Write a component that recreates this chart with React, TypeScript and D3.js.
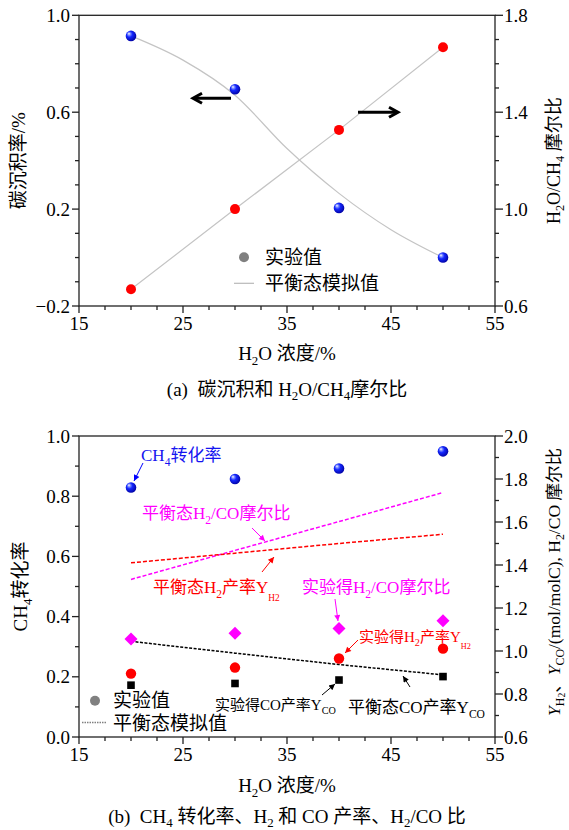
import React from "react";
import * as d3 from "d3";

// ---------- data ----------
const xExp = [20, 30, 40, 50];
// (a) carbon deposition (left axis) and H2O/CH4 ratio (right axis)
const carbonExp = [0.915, 0.695, 0.205, 0.0];
const ratioExp = [0.669, 1.0, 1.327, 1.668];
const xSimA = [20, 25, 30, 35, 40, 45, 50];
const carbonSim = [0.915, 0.815, 0.67, 0.45, 0.265, 0.115, 0.0];
const xSimRatio = [20, 30, 40, 50];
const ratioSim = [0.669, 1.0, 1.327, 1.668];

// (b)
const ch4Conv = [0.829, 0.857, 0.892, 0.949];
const h2coExp = [1.056, 1.082, 1.105, 1.141];
const h2YieldExp = [0.895, 0.923, 0.965, 1.011];
const coYieldExp = [0.841, 0.849, 0.865, 0.881];
const xSimB = [20, 30, 40, 50];
const h2coSim = [1.333, 1.468, 1.602, 1.737];
const h2YieldSim = [1.41, 1.455, 1.5, 1.543];
const coYieldSim = [1.045, 0.99, 0.937, 0.889];

const xTickLabels = [15, 25, 35, 45, 55];
const aLeftTicks = [-0.2, 0.2, 0.6, 1.0];
const aRightTicks = [0.6, 1.0, 1.4, 1.8];
const bLeftTicks = [0.0, 0.2, 0.4, 0.6, 0.8, 1.0];
const bRightTicks = [0.6, 0.8, 1.0, 1.2, 1.4, 1.6, 1.8, 2.0];

// ---------- layout ----------
const W = 569, H = 830;
const L = 79, R = 495;
const A_T = 15.3, A_B = 306;
const B_T = 436, B_B = 737;
const FONT = "'Liberation Serif','Times New Roman','Noto Sans CJK SC',serif";
const AXC = "#222";
const SP = "\u00a0\u00a0";

type Seg = { t: string; lv?: number; it?: boolean };
const lvSize = [1, 0.68, 0.55];

function Rich({ x, y, segs, size, fill = "#000", anchor = "start", rotate = 0, off = [0, 0.28, 0.45] }: any) {
  let prev = 0;
  const base = size * 0.35;
  return (
    <text
      transform={`translate(${x},${y}) rotate(${rotate})`}
      x={0}
      y={base}
      fontFamily={FONT}
      fontSize={size}
      fill={fill}
      textAnchor={anchor}
    >
      {segs.map((s: Seg, i: number) => {
        const lv = s.lv || 0;
        const dy = (off[lv] - off[prev]) * size;
        prev = lv;
        return (
          <tspan key={i} dy={dy} fontSize={size * lvSize[lv]} fontStyle={s.it ? "italic" : "normal"}>
            {s.t}
          </tspan>
        );
      })}
    </text>
  );
}

function Axes({ top, bottom, yL, yR, leftTicks, rightTicks, leftStep, rightStep, leftFmt, rightFmt }: any) {
  const x = d3.scaleLinear().domain([15, 55]).range([L, R]);
  const xMinor = d3.range(15, 55.001, 2.5);
  const [l0, l1] = yL.domain();
  const [r0, r1] = yR.domain();
  const lMinor = d3.range(0, Math.round((l1 - l0) / leftStep) + 1).map((i) => l0 + i * leftStep);
  const rMinor = d3.range(0, Math.round((r1 - r0) / rightStep) + 1).map((i) => r0 + i * rightStep);
  const isMajor = (v: number, arr: number[]) => arr.some((a) => Math.abs(a - v) < 1e-6);
  return (
    <g>
      <rect x={L} y={top} width={R - L} height={bottom - top} fill="none" stroke={AXC} strokeWidth={1.3} />
      {xMinor.map((v) => {
        const maj = isMajor(v, xTickLabels);
        return <line key={"x" + v} x1={x(v)} x2={x(v)} y1={bottom} y2={bottom + (maj ? 7 : 4)} stroke={AXC} strokeWidth={1.3} />;
      })}
      {xTickLabels.map((v) => (
        <text key={"xl" + v} x={x(v)} y={bottom + 24} textAnchor="middle" fontFamily={FONT} fontSize={19}>
          {v}
        </text>
      ))}
      {lMinor.map((v) => {
        const maj = isMajor(v, leftTicks);
        return <line key={"l" + v} x1={L} x2={L - (maj ? 7 : 4)} y1={yL(v)} y2={yL(v)} stroke={AXC} strokeWidth={1.3} />;
      })}
      {leftTicks.map((v: number) => (
        <text key={"ll" + v} x={L - 9} y={yL(v) + 6.5} textAnchor="end" fontFamily={FONT} fontSize={19}>
          {leftFmt(v)}
        </text>
      ))}
      {rMinor.map((v) => {
        const maj = isMajor(v, rightTicks);
        return <line key={"r" + v} x1={R} x2={R + (maj ? 8 : 4)} y1={yR(v)} y2={yR(v)} stroke={AXC} strokeWidth={1.3} />;
      })}
      {rightTicks.map((v: number) => (
        <text key={"rl" + v} x={R + 9} y={yR(v) + 6.5} textAnchor="start" fontFamily={FONT} fontSize={19}>
          {rightFmt(v)}
        </text>
      ))}
    </g>
  );
}

const fmt1 = (v: number) => (v < 0 ? "\u2212" + Math.abs(v).toFixed(1) : v.toFixed(1));

function Sphere({ cx, cy }: any) {
  return <circle cx={cx} cy={cy} r={5.3} fill="url(#sphereBlue)" />;
}

function BigArrow({ x1, x2, y }: any) {
  const dir = x2 > x1 ? 1 : -1;
  const hx = x2 - dir * 9;
  return (
    <g stroke="#000" strokeWidth={3} fill="none" strokeLinecap="butt" strokeLinejoin="miter">
      <line x1={x1} y1={y} x2={x2 - dir * 1.5} y2={y} />
      <polyline points={`${hx},${y - 5} ${x2},${y} ${hx},${y + 5}`} />
    </g>
  );
}

function Ann({ x1, y1, x2, y2, color }: any) {
  const id = "ah" + color.replace("#", "");
  return <line x1={x1} y1={y1} x2={x2} y2={y2} stroke={color} strokeWidth={1} markerEnd={`url(#${id})`} />;
}

export default function App() {
  const x = d3.scaleLinear().domain([15, 55]).range([L, R]);
  const yAL = d3.scaleLinear().domain([-0.2, 1.0]).range([A_B, A_T]);
  const yAR = d3.scaleLinear().domain([0.6, 1.8]).range([A_B, A_T]);
  const yBL = d3.scaleLinear().domain([0, 1.0]).range([B_B, B_T]);
  const yBR = d3.scaleLinear().domain([0.6, 2.0]).range([B_B, B_T]);

  const carbonLine = d3
    .line<number>()
    .x((_, i) => x(xSimA[i]))
    .y((d) => yAL(d))
    .curve(d3.curveMonotoneX)(carbonSim) as string;
  const ratioLine = d3
    .line<number>()
    .x((_, i) => x(xSimRatio[i]))
    .y((d) => yAR(d))(ratioSim) as string;
  const lineB = (arr: number[]) =>
    d3
      .line<number>()
      .x((_, i) => x(xSimB[i]))
      .y((d) => yBR(d))(arr) as string;

  const arrowColors = ["#0000ff", "#ff00ff", "#ff0000", "#000000"];

  return (
    <svg width={W} height={H} style={{ position: "absolute", left: 0, top: 0, background: "#fff" }}>
      <defs>
        <radialGradient id="sphereBlue" cx="0.42" cy="0.42" r="0.62" fx="0.3" fy="0.28">
          <stop offset="0" stopColor="#ffffff" />
          <stop offset="0.2" stopColor="#8090ff" />
          <stop offset="0.45" stopColor="#1428ff" />
          <stop offset="1" stopColor="#0000a0" />
        </radialGradient>
        {arrowColors.map((c) => (
          <marker
            key={c}
            id={"ah" + c.replace("#", "")}
            viewBox="0 0 10 10"
            refX="10"
            refY="5"
            markerWidth="8"
            markerHeight="6"
            markerUnits="userSpaceOnUse"
            orient="auto"
          >
            <path d="M0,0 L10,5 L0,10 z" fill={c} />
          </marker>
        ))}
      </defs>
      <rect x={0} y={0} width={W} height={H} fill="#fff" />

      {/* ---------- (a) ---------- */}
      <Axes
        top={A_T}
        bottom={A_B}
        yL={yAL}
        yR={yAR}
        leftTicks={aLeftTicks}
        rightTicks={aRightTicks}
        leftStep={0.1}
        rightStep={0.1}
        leftFmt={fmt1}
        rightFmt={fmt1}
      />
      <path d={carbonLine} fill="none" stroke="#c4c4c4" strokeWidth={1.2} />
      <path d={ratioLine} fill="none" stroke="#c4c4c4" strokeWidth={1.2} />
      {carbonExp.map((v, i) => (
        <Sphere key={"c" + i} cx={x(xExp[i])} cy={yAL(v)} />
      ))}
      {ratioExp.map((v, i) => (
        <circle key={"r" + i} cx={x(xExp[i])} cy={yAR(v)} r={5} fill="#ff0000" />
      ))}
      <BigArrow x1={231} x2={193} y={98.3} />
      <BigArrow x1={358} x2={398} y={112.3} />
      {/* legend a */}
      <circle cx={244} cy={257.3} r={5} fill="#808080" />
      <Rich x={265} y={257.3} size={19} segs={[{ t: "实验值" }]} />
      <line x1={234} x2={254} y1={283.3} y2={283.3} stroke="#b8b8b8" strokeWidth={1.2} />
      <Rich x={265} y={283.3} size={19} segs={[{ t: "平衡态模拟值" }]} />
      {/* axis titles a */}
      <Rich x={18} y={(A_T + A_B) / 2} size={19} anchor="middle" rotate={-90} segs={[{ t: "碳沉积率/%" }]} />
      <Rich
        x={554}
        y={(A_T + A_B) / 2}
        size={18}
        anchor="middle"
        rotate={-90}
        off={[0, 0.22, 0.3]}
        segs={[{ t: "H" }, { t: "2", lv: 1 }, { t: "O/CH" }, { t: "4", lv: 1 }, { t: " 摩尔比" }]}
      />
      <Rich x={287} y={353} size={19} anchor="middle" segs={[{ t: "H" }, { t: "2", lv: 1 }, { t: "O 浓度/%" }]} />
      <Rich
        x={287}
        y={389}
        size={19}
        anchor="middle"
        off={[0, 0.24, 0.3]}
        segs={[{ t: "(a)" + SP + "碳沉积和 H" }, { t: "2", lv: 1 }, { t: "O/CH" }, { t: "4", lv: 1 }, { t: "摩尔比" }]}
      />

      {/* ---------- (b) ---------- */}
      <Axes
        top={B_T}
        bottom={B_B}
        yL={yBL}
        yR={yBR}
        leftTicks={bLeftTicks}
        rightTicks={bRightTicks}
        leftStep={0.1}
        rightStep={0.1}
        leftFmt={fmt1}
        rightFmt={fmt1}
      />
      <path d={lineB(h2coSim)} fill="none" stroke="#ff00ff" strokeWidth={1.5} strokeDasharray="4,2" />
      <path d={lineB(h2YieldSim)} fill="none" stroke="#ff0000" strokeWidth={1.5} strokeDasharray="4,2" />
      <path d={lineB(coYieldSim)} fill="none" stroke="#000" strokeWidth={1.5} strokeDasharray="3,1.5" />
      {ch4Conv.map((v, i) => (
        <Sphere key={"b" + i} cx={x(xExp[i])} cy={yBL(v)} />
      ))}
      {h2coExp.map((v, i) => {
        const cx = x(xExp[i]);
        const cy = yBR(v);
        return <path key={"d" + i} d={`M${cx},${cy - 6.5} L${cx + 6.5},${cy} L${cx},${cy + 6.5} L${cx - 6.5},${cy} Z`} fill="#ff00ff" />;
      })}
      {h2YieldExp.map((v, i) => (
        <circle key={"h" + i} cx={x(xExp[i])} cy={yBR(v)} r={5.2} fill="#ff0000" />
      ))}
      {coYieldExp.map((v, i) => (
        <rect key={"s" + i} x={x(xExp[i]) - 3.8} y={yBR(v) - 3.8} width={7.6} height={7.6} fill="#000" />
      ))}

      {/* annotations */}
      <Rich x={141} y={455} size={17} fill="#1515f0" segs={[{ t: "CH" }, { t: "4", lv: 1 }, { t: "转化率" }]} />
      <Ann x1={143} y1={463} x2={134} y2={481} color="#0000ff" />
      <Rich x={142} y={513} size={17} fill="#ff00ff" segs={[{ t: "平衡态H" }, { t: "2", lv: 1 }, { t: "/CO摩尔比" }]} />
      <Ann x1={252} y1={528} x2={265} y2={541} color="#ff00ff" />
      <Rich
        x={153}
        y={587}
        size={17}
        fill="#ff0000"
        segs={[{ t: "平衡态H" }, { t: "2", lv: 1 }, { t: "产率Y" }, { t: "H2", lv: 2 }]}
      />
      <Ann x1={262} y1={572} x2={274} y2={557} color="#ff0000" />
      <Rich x={302} y={587} size={17} fill="#ff00ff" segs={[{ t: "实验得H" }, { t: "2", lv: 1 }, { t: "/CO摩尔比" }]} />
      <Ann x1={335} y1={599} x2={338} y2={621} color="#ff00ff" />
      <Rich
        x={359}
        y={637}
        size={15}
        fill="#ff0000"
        segs={[{ t: "实验得H" }, { t: "2", lv: 1 }, { t: "产率Y" }, { t: "H2", lv: 2 }]}
      />
      <Ann x1={358} y1={640} x2={345} y2={653} color="#ff0000" />
      <Rich x={215} y={705} size={15} segs={[{ t: "实验得CO产率Y" }, { t: "CO", lv: 1 }]} />
      <Ann x1={322} y1={695} x2={335} y2={684} color="#000000" />
      <Rich x={348} y={707} size={17} segs={[{ t: "平衡态CO产率Y" }, { t: "CO", lv: 1 }]} />
      <Ann x1={410} y1={687} x2={403} y2={676} color="#000000" />

      {/* legend b */}
      <circle cx={95} cy={700.7} r={5} fill="#808080" />
      <Rich x={113} y={700.7} size={19} segs={[{ t: "实验值" }]} />
      <line x1={82} x2={106} y1={722.5} y2={722.5} stroke="#808080" strokeWidth={1.5} strokeDasharray="1.5,1" />
      <Rich x={113} y={723} size={19} segs={[{ t: "平衡态模拟值" }]} />

      {/* axis titles b */}
      <Rich x={20} y={(B_T + B_B) / 2} size={19} anchor="middle" rotate={-90} segs={[{ t: "CH" }, { t: "4", lv: 1 }, { t: "转化率" }]} />
      <Rich
        x={554}
        y={582}
        size={17.5}
        anchor="middle"
        rotate={-90}
        off={[0, 0.2, 0.28]}
        segs={[
          { t: "Y", it: true },
          { t: "H", lv: 1 },
          { t: "2", lv: 2 },
          { t: "、" },
          { t: "Y", it: true },
          { t: "CO", lv: 1 },
          { t: "/(mol/molC), H" },
          { t: "2", lv: 1 },
          { t: "/CO 摩尔比" },
        ]}
      />
      <Rich x={287} y={785} size={19} anchor="middle" segs={[{ t: "H" }, { t: "2", lv: 1 }, { t: "O 浓度/%" }]} />
      <Rich
        x={287}
        y={816}
        size={19}
        anchor="middle"
        off={[0, 0.22, 0.3]}
        segs={[
          { t: "(b)" + SP + "CH" },
          { t: "4", lv: 1 },
          { t: " 转化率、H" },
          { t: "2", lv: 1 },
          { t: " 和 CO 产率、H" },
          { t: "2", lv: 1 },
          { t: "/CO 比" },
        ]}
      />
    </svg>
  );
}
